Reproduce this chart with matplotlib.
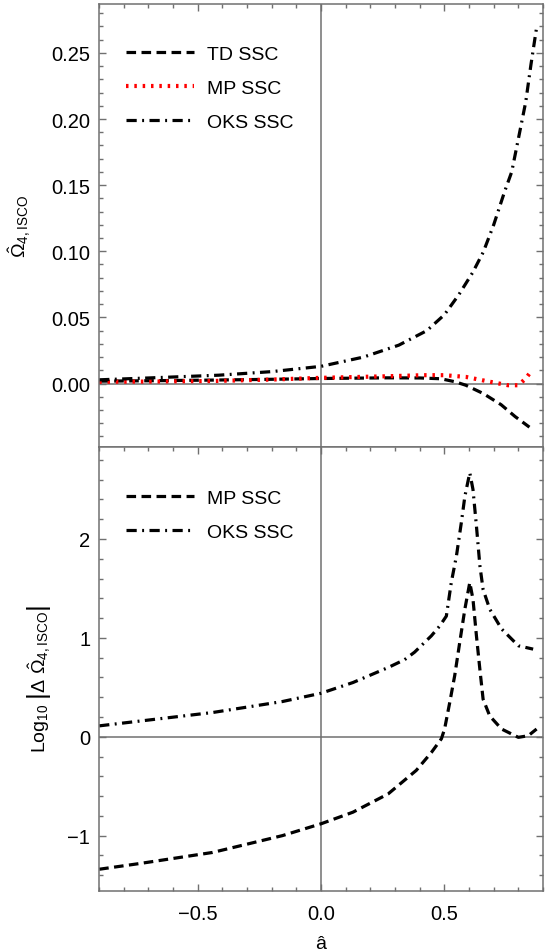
import matplotlib
matplotlib.use("Agg")
import matplotlib.pyplot as plt
from matplotlib.ticker import MultipleLocator
import numpy as np

plt.rcParams["font.family"] = ["Liberation Sans", "DejaVu Sans"]
plt.rcParams["mathtext.fontset"] = "custom"
plt.rcParams["mathtext.rm"] = "Liberation Sans"
plt.rcParams["mathtext.it"] = "Liberation Sans:italic"

# top panel: Omega_4 at ISCO
td_x = [-0.9, -0.7, -0.44, -0.2, 0.0, 0.27, 0.40, 0.486, 0.544, 0.587, 0.658, 0.73, 0.787, 0.845]
td_y = [0.0018, 0.0021, 0.0026, 0.0032, 0.0038, 0.0043, 0.0042, 0.0036, 0.0013, -0.0013, -0.0076, -0.016, -0.025, -0.033]

mp_x = [-0.9, -0.7, -0.44, -0.2, 0.0, 0.27, 0.415, 0.50, 0.587, 0.672, 0.758, 0.80, 0.83, 0.855]
mp_y = [0.0013, 0.0015, 0.0019, 0.0030, 0.0043, 0.0055, 0.0063, 0.0063, 0.0050, 0.0018, -0.0013, -0.0013, 0.0038, 0.0100]

oks_x = [-0.9, -0.7, -0.415, -0.2, 0.0, 0.172, 0.315, 0.429, 0.50, 0.558, 0.615, 0.658, 0.70,
         0.744, 0.773, 0.80, 0.83, 0.851, 0.873]
oks_y = [0.0028, 0.0042, 0.0063, 0.0090, 0.013, 0.020, 0.029, 0.040, 0.052, 0.067, 0.084, 0.0995,
         0.120, 0.145, 0.160, 0.185, 0.213, 0.241, 0.268]

# bottom panel: log10 of the difference
dmp_x = [-0.9, -0.73, -0.44, -0.157, 0.0, 0.129, 0.272, 0.386, 0.413, 0.447, 0.488, 0.501, 0.522,
         0.542, 0.562, 0.583, 0.603, 0.616, 0.63, 0.644, 0.657, 0.684, 0.732, 0.80, 0.84, 0.874]
dmp_y = [-1.34, -1.28, -1.17, -1.00, -0.88, -0.763, -0.578, -0.34, -0.26, -0.16, -0.02, 0.08, 0.35,
         0.62, 0.95, 1.29, 1.56, 1.39, 1.02, 0.68, 0.38, 0.21, 0.078, -0.006, 0.01, 0.078]

doks_x = [-0.9, -0.73, -0.44, -0.157, 0.0, 0.129, 0.272, 0.339, 0.379, 0.447, 0.481, 0.508, 0.528,
          0.549, 0.569, 0.583, 0.603, 0.616, 0.63, 0.644, 0.657, 0.684, 0.732, 0.80, 0.86]
doks_y = [0.11, 0.16, 0.245, 0.356, 0.44, 0.548, 0.70, 0.78, 0.855, 1.02, 1.12, 1.22, 1.56,
          1.83, 2.17, 2.43, 2.67, 2.50, 2.13, 1.73, 1.49, 1.29, 1.09, 0.92, 0.886]

GRAY = "#707070"
DASH = (0, (3.0, 1.7))
DOT = (0, (0.6, 1.4))
DASHDOT = (0, (3.2, 1.7, 0.6, 1.7))

fig = plt.figure(figsize=(5.51, 9.53), dpi=100)
ax1 = fig.add_axes([0.18, 0.5299, 0.8055, 0.4649])
ax2 = fig.add_axes([0.18, 0.064, 0.8055, 0.4659])


def style_axes(ax, bottom_ticks):
    for s in ax.spines.values():
        s.set_color(GRAY)
        s.set_linewidth(1.1)
    ax.axhline(0, color=GRAY, linewidth=1.1, zorder=1)
    ax.axvline(0, color=GRAY, linewidth=1.1, zorder=1)
    ax.set_xlim(-0.9, 0.9)
    ax.xaxis.set_major_locator(MultipleLocator(0.5))
    ax.xaxis.set_minor_locator(MultipleLocator(0.1))
    ax.tick_params(which="both", direction="in", top=True, right=True, bottom=bottom_ticks,
                   color=GRAY, labelsize=14.5, width=1)
    ax.tick_params(which="major", length=5)
    ax.tick_params(which="minor", length=3)
    ax.tick_params(axis="y", pad=6.5)
    ax.tick_params(axis="x", pad=9)


# top
style_axes(ax1, False)
ax1.plot(td_x, td_y, color="black", lw=2.3, linestyle=DASH, label="TD SSC")
ax1.plot(mp_x, mp_y, color="red", lw=3, linestyle=DOT, label="MP SSC")
ax1.plot(oks_x, oks_y, color="black", lw=2.3, linestyle=DASHDOT, label="OKS SSC")
ax1.set_ylim(-0.048, 0.287)
ax1.yaxis.set_minor_locator(MultipleLocator(0.01))
ax1.set_yticks([0.0, 0.05, 0.10, 0.15, 0.20, 0.25])
ax1.set_yticklabels(["0.00", "0.05", "0.10", "0.15", "0.20", "0.25"])
ax1.tick_params(labelbottom=False)
ax1.set_ylabel(r"$\hat{\Omega}_{4,\mathrm{ISCO}}$", fontsize=14)
ax1.yaxis.set_label_coords(-0.15, 0.5)
ax1.legend(loc="upper left", bbox_to_anchor=(0.06, 0.907), frameon=False, fontsize=14,
           handlelength=3.5, handletextpad=0.7, labelspacing=0.85, borderpad=0, borderaxespad=0)

# bottom
style_axes(ax2, True)
ax2.plot(dmp_x, dmp_y, color="black", lw=2.3, linestyle=DASH, label="MP SSC")
ax2.plot(doks_x, doks_y, color="black", lw=2.3, linestyle=DASHDOT, label="OKS SSC")
ax2.set_ylim(-1.56, 2.93)
ax2.yaxis.set_minor_locator(MultipleLocator(0.2))
ax2.set_xticks([-0.5, 0.0, 0.5])
ax2.set_xticklabels(["\u22120.5", "0.0", "0.5"])
ax2.set_yticks([-1, 0, 1, 2])
ax2.set_yticklabels(["\u22121", "0", "1", "2"])
ax2.set_xlabel("\u00e2", fontsize=14, labelpad=9)
ax2.set_ylabel(r"$\mathrm{Log}_{10}\ \left|\Delta\ \hat{\Omega}_{4,\mathrm{ISCO}}\right|$", fontsize=14)
ax2.yaxis.set_label_coords(-0.105, 0.48)
ax2.legend(loc="upper left", bbox_to_anchor=(0.06, 0.905), frameon=False, fontsize=14,
           handlelength=3.5, handletextpad=0.7, labelspacing=0.85, borderpad=0, borderaxespad=0)

fig.savefig("out.png", dpi=100)
